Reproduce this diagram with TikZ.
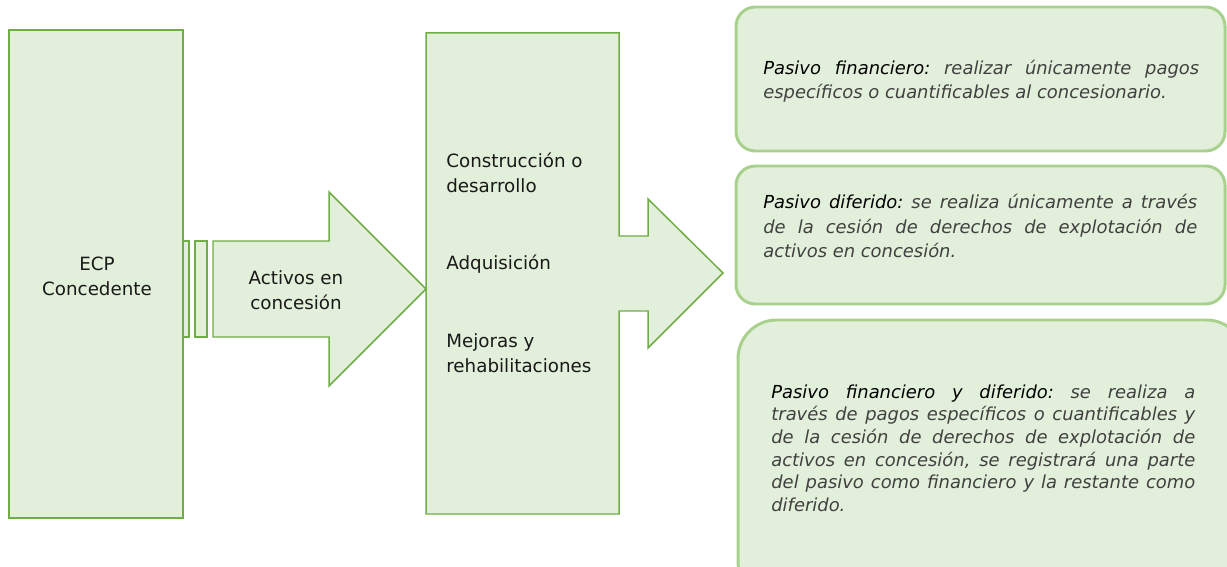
\documentclass[tikz,border=0pt]{standalone}
\usepackage{fontspec}
\setmainfont{DejaVu Sans}
\definecolor{verdeclaro}{HTML}{E2EFDA}
\definecolor{verdeborde}{HTML}{70AD47}
\definecolor{verdesuave}{HTML}{A9D18E}
\definecolor{textogris}{HTML}{404040}
\tikzstyle{bloque} = [draw=verdeborde, fill=verdeclaro, line width=0.85pt, line join=miter]
\tikzstyle{pasivo} = [draw=verdesuave, fill=verdeclaro, line width=1.7pt, rounded corners=11pt]
\tikzstyle{etiqueta} = [font=\fontsize{10.4}{14.2}\selectfont, align=left, inner sep=0pt, text=black!90]
\tikzstyle{nota} = [font=\fontsize{10.2}{13.8}\selectfont\itshape, text=textogris, align=justify, inner sep=0pt, anchor=west]

\begin{document}
\frenchspacing
\begin{tikzpicture}[x=0.02cm, y=-0.02cm]
    \clip (0,0) rectangle (1227,567);
    \hyphenpenalty=10000

    % bloques de la izquierda
    \draw [bloque] (9,30) rectangle (183,518);
    \draw [bloque] (183,241) rectangle (189,337);
    \draw [bloque] (195,241) rectangle (207,337);
    \draw [bloque] (426,33) -- (619,33) -- (619,236) -- (648,236) -- (648,199) -- (723,273)
        -- (648,348) -- (648,311) -- (619,311) -- (619,514) -- (426,514) -- cycle;
    \draw [bloque] (213,241) -- (329,241) -- (329,192) -- (426,289) -- (329,386) -- (329,337)
        -- (213,337) -- cycle;

    \node (ecp) [etiqueta, align=center] at (97,276) {ECP\\Concedente};
    \node (activos) [etiqueta, align=center] at (296,290) {Activos en\\concesión};
    \node (construccion) [etiqueta, anchor=west] at (446,173) {Construcción o\\desarrollo};
    \node (adquisicion) [etiqueta, anchor=west] at (446,264) {Adquisición};
    \node (mejoras) [etiqueta, anchor=west] at (446,353) {Mejoras y\\rehabilitaciones};

    % tipos de pasivo
    \draw [pasivo] (736,7) rectangle (1225,151);
    \draw [pasivo] (736,166) rectangle (1225,304);
    \draw [pasivo, rounded corners=22pt] (738,320) rectangle (1245,600);

    \node (financiero) [nota, text width=8.72cm] at (763,81)
        {\textcolor{black}{Pasivo financiero:} realizar únicamente pagos\linebreak
         específicos o cuantificables al concesionario.};
    \node (diferido) [nota, text width=8.68cm] at (763,226)
        {\textcolor{black}{Pasivo diferido:} se realiza únicamente a través\linebreak
         de la cesión de derechos de explotación de\linebreak
         activos en concesión.};
    \node (mixto) [nota, text width=8.48cm, font=\fontsize{10.2}{12.9}\selectfont\itshape] at (771,448)
        {\textcolor{black}{Pasivo financiero y diferido:} se realiza a\linebreak
         través de pagos específicos o cuantificables y\linebreak
         de la cesión de derechos de explotación de\linebreak
         activos en concesión, se registrará una parte\linebreak
         del pasivo como financiero y la restante como\linebreak
         diferido.};
\end{tikzpicture}
\end{document}
